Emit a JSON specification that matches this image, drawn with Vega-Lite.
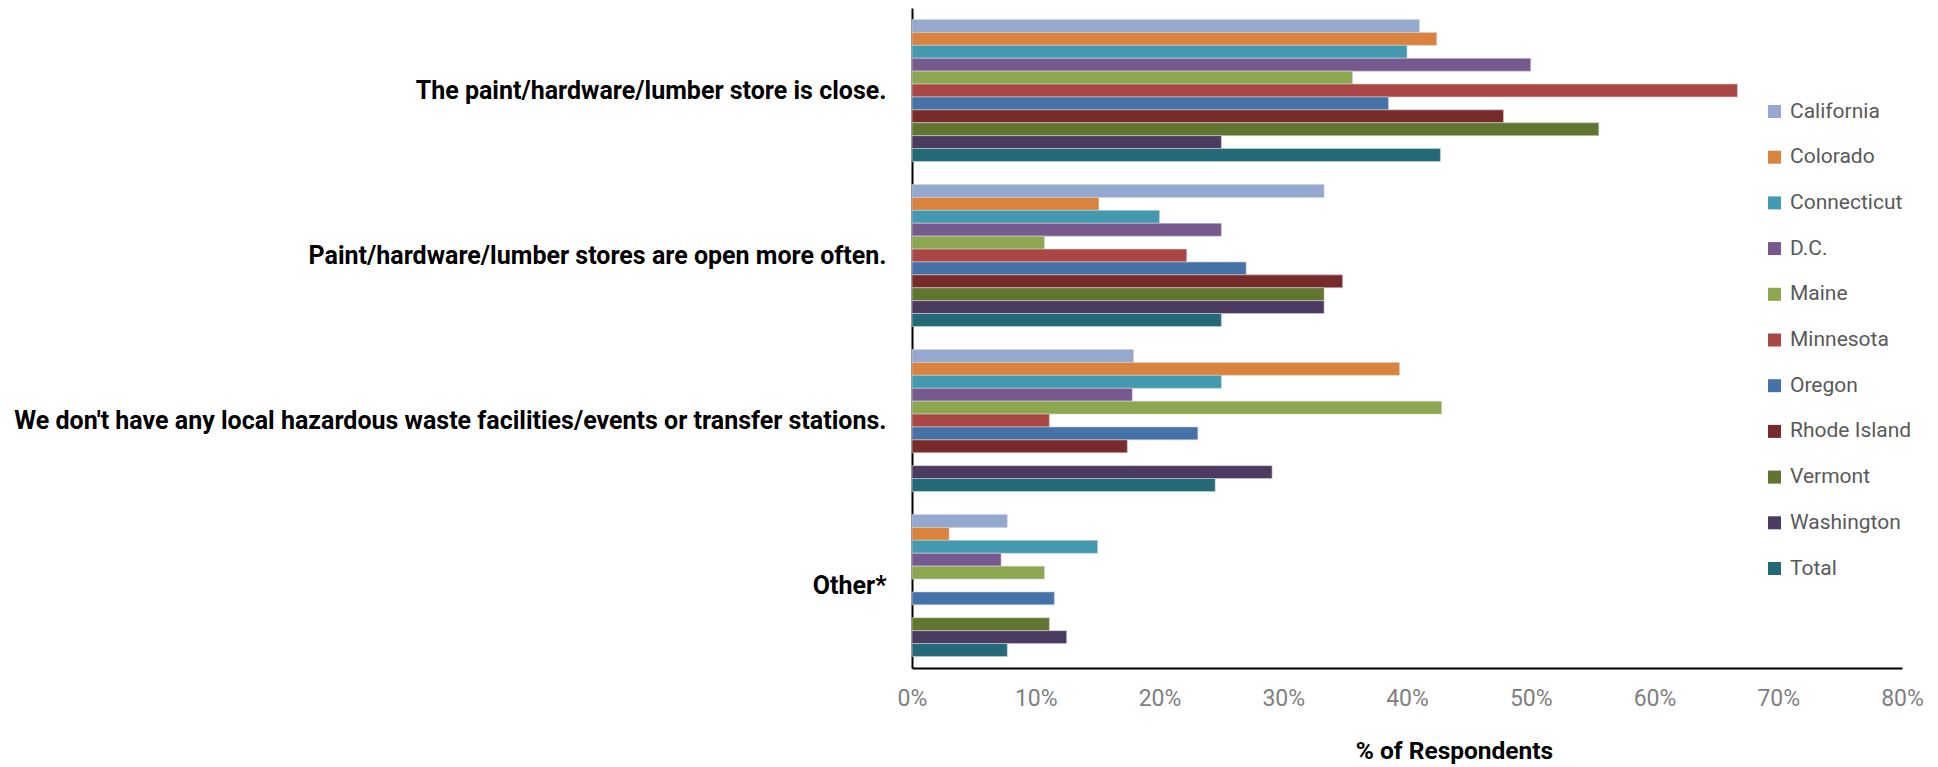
{
  "$schema": "https://vega.github.io/schema/vega-lite/v6.json",
  "autosize": "none",
  "width": 990,
  "height": 660,
  "padding": {"left": 912, "top": 8, "right": 36, "bottom": 99},
  "background": "white",
  "config": {"view": {"stroke": null}},
  "data": {
    "values": [
      {"reason": "The paint/hardware/lumber store is close.", "state": "California", "pct": 0.41},
      {"reason": "The paint/hardware/lumber store is close.", "state": "Colorado", "pct": 0.424},
      {"reason": "The paint/hardware/lumber store is close.", "state": "Connecticut", "pct": 0.40},
      {"reason": "The paint/hardware/lumber store is close.", "state": "D.C.", "pct": 0.50},
      {"reason": "The paint/hardware/lumber store is close.", "state": "Maine", "pct": 0.356},
      {"reason": "The paint/hardware/lumber store is close.", "state": "Minnesota", "pct": 0.667},
      {"reason": "The paint/hardware/lumber store is close.", "state": "Oregon", "pct": 0.385},
      {"reason": "The paint/hardware/lumber store is close.", "state": "Rhode Island", "pct": 0.478},
      {"reason": "The paint/hardware/lumber store is close.", "state": "Vermont", "pct": 0.555},
      {"reason": "The paint/hardware/lumber store is close.", "state": "Washington", "pct": 0.25},
      {"reason": "The paint/hardware/lumber store is close.", "state": "Total", "pct": 0.427},
      {"reason": "Paint/hardware/lumber stores are open more often.", "state": "California", "pct": 0.333},
      {"reason": "Paint/hardware/lumber stores are open more often.", "state": "Colorado", "pct": 0.151},
      {"reason": "Paint/hardware/lumber stores are open more often.", "state": "Connecticut", "pct": 0.20},
      {"reason": "Paint/hardware/lumber stores are open more often.", "state": "D.C.", "pct": 0.25},
      {"reason": "Paint/hardware/lumber stores are open more often.", "state": "Maine", "pct": 0.107},
      {"reason": "Paint/hardware/lumber stores are open more often.", "state": "Minnesota", "pct": 0.222},
      {"reason": "Paint/hardware/lumber stores are open more often.", "state": "Oregon", "pct": 0.27},
      {"reason": "Paint/hardware/lumber stores are open more often.", "state": "Rhode Island", "pct": 0.348},
      {"reason": "Paint/hardware/lumber stores are open more often.", "state": "Vermont", "pct": 0.333},
      {"reason": "Paint/hardware/lumber stores are open more often.", "state": "Washington", "pct": 0.333},
      {"reason": "Paint/hardware/lumber stores are open more often.", "state": "Total", "pct": 0.25},
      {"reason": "We don't have any local hazardous waste facilities/events or transfer stations.", "state": "California", "pct": 0.179},
      {"reason": "We don't have any local hazardous waste facilities/events or transfer stations.", "state": "Colorado", "pct": 0.394},
      {"reason": "We don't have any local hazardous waste facilities/events or transfer stations.", "state": "Connecticut", "pct": 0.25},
      {"reason": "We don't have any local hazardous waste facilities/events or transfer stations.", "state": "D.C.", "pct": 0.178},
      {"reason": "We don't have any local hazardous waste facilities/events or transfer stations.", "state": "Maine", "pct": 0.428},
      {"reason": "We don't have any local hazardous waste facilities/events or transfer stations.", "state": "Minnesota", "pct": 0.111},
      {"reason": "We don't have any local hazardous waste facilities/events or transfer stations.", "state": "Oregon", "pct": 0.231},
      {"reason": "We don't have any local hazardous waste facilities/events or transfer stations.", "state": "Rhode Island", "pct": 0.174},
      {"reason": "We don't have any local hazardous waste facilities/events or transfer stations.", "state": "Washington", "pct": 0.291},
      {"reason": "We don't have any local hazardous waste facilities/events or transfer stations.", "state": "Total", "pct": 0.245},
      {"reason": "Other*", "state": "California", "pct": 0.077},
      {"reason": "Other*", "state": "Colorado", "pct": 0.03},
      {"reason": "Other*", "state": "Connecticut", "pct": 0.15},
      {"reason": "Other*", "state": "D.C.", "pct": 0.072},
      {"reason": "Other*", "state": "Maine", "pct": 0.107},
      {"reason": "Other*", "state": "Oregon", "pct": 0.115},
      {"reason": "Other*", "state": "Vermont", "pct": 0.111},
      {"reason": "Other*", "state": "Washington", "pct": 0.125},
      {"reason": "Other*", "state": "Total", "pct": 0.077}
    ]
  },
  "mark": {"type": "bar", "stroke": "#d0d0d0", "strokeWidth": 0.6},
  "encoding": {
    "y": {
      "field": "reason",
      "type": "nominal",
      "sort": null,
      "scale": {
        "domain": [
          "The paint/hardware/lumber store is close.",
          "Paint/hardware/lumber stores are open more often.",
          "We don't have any local hazardous waste facilities/events or transfer stations.",
          "Other*"
        ],
        "paddingInner": 0.14,
        "paddingOuter": 0.07
      },
      "axis": {
        "title": null,
        "ticks": false,
        "domainColor": "#000000",
        "domainWidth": 2,
        "labelFont": "Roboto",
        "labelFontWeight": "bold",
        "labelFontSize": 25,
        "labelColor": "#000000",
        "labelPadding": 26,
        "labelLimit": 1000
      }
    },
    "yOffset": {
      "field": "state",
      "type": "nominal",
      "scale": {
        "domain": ["California", "Colorado", "Connecticut", "D.C.", "Maine", "Minnesota", "Oregon", "Rhode Island", "Vermont", "Washington", "Total"],
        "paddingInner": 0,
        "paddingOuter": 0
      }
    },
    "x": {
      "field": "pct",
      "type": "quantitative",
      "scale": {"domain": [0, 0.8], "nice": false},
      "axis": {
        "values": [0, 0.1, 0.2, 0.3, 0.4, 0.5, 0.6, 0.7, 0.8],
        "format": ".0%",
        "grid": false,
        "ticks": false,
        "labelFlush": false,
        "domainColor": "#000000",
        "domainWidth": 2,
        "labelFont": "Roboto",
        "labelFontSize": 23,
        "labelColor": "#7f7f7f",
        "labelPadding": 19,
        "title": "% of Respondents",
        "titleFont": "Roboto",
        "titleFontSize": 24.5,
        "titleFontWeight": "bold",
        "titleColor": "#000000",
        "titlePadding": 29,
        "titleX": 542,
        "titleAlign": "center"
      }
    },
    "color": {
      "field": "state",
      "type": "nominal",
      "scale": {
        "domain": ["California", "Colorado", "Connecticut", "D.C.", "Maine", "Minnesota", "Oregon", "Rhode Island", "Vermont", "Washington", "Total"],
        "range": ["#95a9d0", "#d9833f", "#4299b0", "#765a8f", "#8ca74f", "#aa4744", "#4573a9", "#772b2b", "#5f7530", "#4c3b61", "#236978"]
      },
      "legend": {
        "title": null,
        "orient": "none",
        "legendX": 852,
        "legendY": 93,
        "padding": 0,
        "symbolType": "square",
        "symbolSize": 169,
        "symbolStrokeWidth": 0,
        "labelFont": "Roboto",
        "labelFontSize": 21,
        "labelColor": "#595959",
        "labelOffset": 5,
        "rowPadding": 23.7
      }
    }
  }
}
